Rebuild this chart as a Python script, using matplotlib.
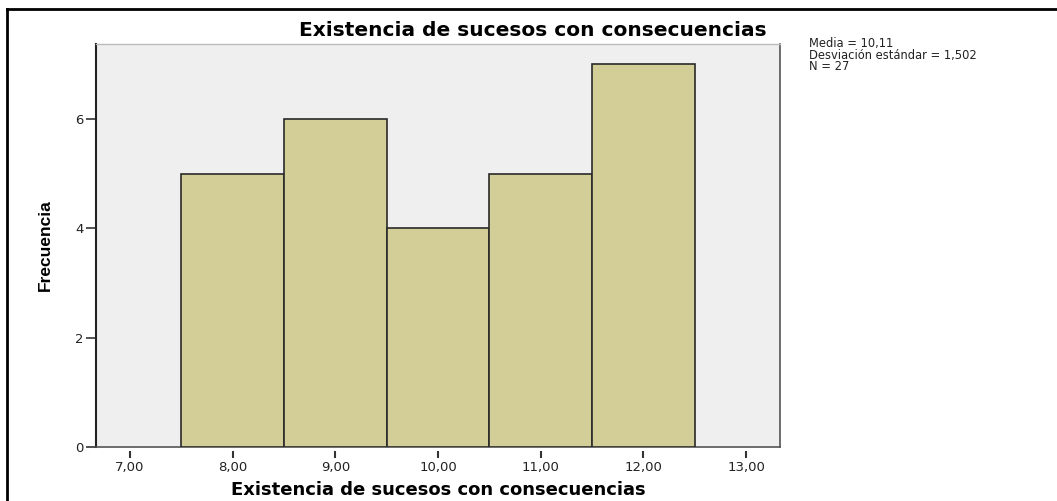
import numpy as np
import matplotlib
matplotlib.use('Agg')
import matplotlib.pyplot as plt
from matplotlib.lines import Line2D
from matplotlib.transforms import ScaledTranslation

plt.rcParams['font.family'] = ['DejaVu Sans']

valores = [8, 9, 10, 11, 12]
frecuencias = [5, 6, 4, 5, 7]
xticks = [7, 8, 9, 10, 11, 12, 13]
xticklabels = ['7,00', '8,00', '9,00', '10,00', '11,00', '12,00', '13,00']
yticks = [0, 2, 4, 6]
titulo = 'Existencia de sucesos con consecuencias'
stats = 'Media = 10,11\nDesviación estándar = 1,502\nN = 27'

fig = plt.figure(figsize=(10.57, 5.01), dpi=100)
W, H = 1057, 501
ax = fig.add_axes([96 / W, 1 - 447 / H, (780 - 96) / W, (447 - 44) / H])

ax.set_facecolor('#efefef')
ax.bar(valores, frecuencias, width=1.0, color='#d3ce97', edgecolor='#2a2a2a', linewidth=1.2, zorder=3)

ax.set_xlim(6.67, 13.33)
ax.set_ylim(0, 7.37)
ax.set_xticks(xticks)
ax.set_xticklabels(xticklabels, fontsize=9.5)
ax.set_yticks(yticks)
ax.set_yticklabels([str(v) for v in yticks], fontsize=9.5)
ax.tick_params(axis='x', length=5, width=1.5, color='#333333', pad=5, labelcolor='#222222')
ax.tick_params(axis='y', length=7, width=1.2, color='#333333', pad=2, labelcolor='#222222')

ax.spines['left'].set_color('#222222')
ax.spines['left'].set_linewidth(1.5)
ax.spines['bottom'].set_color('#555555')
ax.spines['bottom'].set_linewidth(1.2)
ax.spines['right'].set_color('#555555')
ax.spines['right'].set_linewidth(1.2)
ax.spines['top'].set_color('#bbbbbb')
ax.spines['top'].set_linewidth(1.0)

# marcas del eje x separadas del borde
for tl in ax.xaxis.get_ticklines():
    tl.set_transform(tl.get_transform() + ScaledTranslation(0, -3 / 72, fig.dpi_scale_trans))

ax.set_xlabel(titulo, fontsize=13, fontweight='bold', labelpad=5)
ax.set_ylabel('Frecuencia', fontsize=12.5, fontweight='bold',
              family=['Liberation Sans Narrow', 'Liberation Sans'], labelpad=16)

fig.text(533 / W, 1 - 31 / H, titulo, ha='center', va='center', fontsize=14.5, fontweight='bold')
fig.text(809 / W, 1 - 37 / H, stats, ha='left', va='top', fontsize=8.3, linespacing=0.85, color='#222222')

# marco exterior
fig.add_artist(Line2D([7 / W, 1], [1 - 9 / H, 1 - 9 / H], transform=fig.transFigure, color='black', linewidth=2))
fig.add_artist(Line2D([7 / W, 7 / W], [0, 1 - 9 / H], transform=fig.transFigure, color='black', linewidth=2))

fig.savefig('out.png', dpi=100)
